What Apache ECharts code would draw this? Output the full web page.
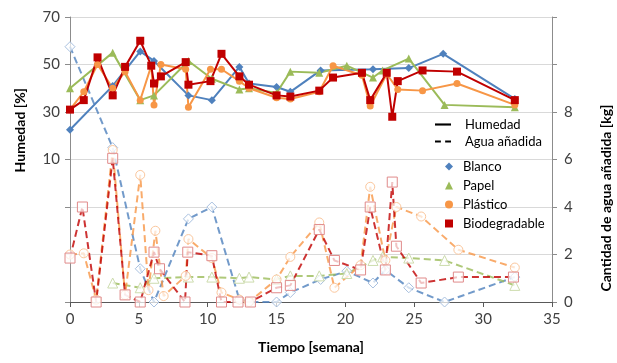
<!DOCTYPE html>
<html>
<head>
<meta charset="utf-8">
<script src="https://cdn.jsdelivr.net/npm/echarts@6/dist/echarts.min.js"></script>
<style>
  html, body { margin: 0; padding: 0; background: #fff; }
  #chart { width: 617px; height: 363px; }
</style>
</head>
<body>
<div id="chart"></div>
<script>
// semanas y valores
// Humedad [%] (lineas continuas, eje izquierdo)
let blancoHumWeeks = [0, 3.1, 5.1, 6.1, 8.6, 10.3, 12.3, 13, 15, 16, 18.2, 22, 24.6, 27.1, 32.3];
let blancoHum = [22.5, 41, 55.5, 51.5, 37, 35, 49, 42, 40.5, 38.5, 47.5, 48, 48.5, 54.5, 35.5];

let papelHumWeeks = [0, 3.1, 5.1, 6.1, 8.6, 10.3, 12.3, 13, 15, 16, 18.1, 20.1, 22, 22.7, 24.6, 27.2, 32.3];
let papelHum = [40, 55, 35, 37, 51.5, 44, 39.5, 40, 38, 47, 46.5, 49.5, 44.5, 47.5, 52.5, 33, 32];

let plasticoHumWeeks = [0, 1, 2, 3.1, 4, 5.1, 5.9, 6.1, 6.6, 8.4, 8.6, 10.2, 11, 12.3, 13, 15, 16, 18.1, 19.1, 21.2, 21.8, 23, 23.8, 25.6, 28.1, 32.3];
let plasticoHum = [31, 38.5, 50, 40, 47, 35, 49.5, 33, 50, 48, 32, 48, 48, 43, 40, 36, 35.5, 38.5, 49.5, 45.5, 32.5, 46, 39.5, 39, 42, 33];

let bioHumWeeks = [0, 1, 2, 3.1, 4, 5.1, 5.9, 6.1, 6.6, 8.4, 8.6, 10.2, 11, 12.3, 13, 15, 16, 18.1, 19.1, 21.2, 21.8, 23, 23.4, 23.8, 25.6, 28.1, 32.3];
let bioHum = [31, 35, 53, 37, 49, 60, 49.5, 42, 45, 51, 41.5, 43, 54.5, 45, 41.5, 37, 36.5, 39, 44.5, 46.5, 35, 46.5, 28, 43, 47.5, 47, 35];

// Agua añadida [kg] (lineas discontinuas, eje derecho)
let blancoAguaWeeks = [0, 3.1, 5.1, 6.1, 8.6, 10.3, 12.3, 13, 15, 16, 18.2, 20.1, 22, 22.9, 24.6, 27.2, 32.3];
let blancoAgua = [10.75, 6.5, 1.4, 0, 3.5, 4, 0.1, 0, 0, 0.4, 0.95, 1.3, 0.8, 1.35, 0.6, 0, 1.05];

let papelAguaWeeks = [3.1, 5.1, 6.1, 8.6, 10.3, 12.3, 13, 15, 16, 18.1, 20.1, 22, 22.7, 24.6, 27.2, 32.3];
let papelAgua = [0.8, 0.6, 1.0, 1.05, 1.05, 1.0, 1.05, 0.95, 1.1, 1.1, 1.2, 1.75, 1.9, 1.85, 1.75, 0.7];

let plasticoAguaWeeks = [0, 1, 1.9, 3.1, 4, 5.1, 5.7, 6.2, 6.8, 8.4, 8.6, 10.3, 11, 12.3, 13, 15, 16, 18.1, 19.2, 21.1, 21.8, 22.9, 23.7, 25.5, 28.2, 32.3];
let plasticoAgua = [2.0, 2.05, 0.1, 6.4, 0.3, 5.35, 0.5, 3.0, 0.25, 1.1, 2.65, 1.85, 0.4, 0.1, 0, 0.95, 1.9, 3.35, 0.6, 1.55, 4.85, 1.75, 4.0, 3.6, 2.2, 1.45];

let bioAguaWeeks = [0, 0.9, 1.9, 3.1, 4, 5.1, 6.1, 6.5, 8.35, 8.55, 10.3, 11, 12.2, 13.1, 15, 16, 18.1, 19.2, 21.1, 21.8, 22.9, 23.4, 23.7, 25.5, 28.2, 32.2];
let bioAgua = [1.85, 4, 0, 6.05, 0.3, 0, 2.1, 1.4, 0, 2.1, 1.95, 0, 0, 0, 0.6, 0.7, 3.05, 1.75, 1.35, 4, 1.35, 5.05, 2.35, 0.8, 1.05, 1.05];

let materiales = ['Blanco', 'Papel', 'Plástico', 'Biodegradable'];

// ejes
let xTicks = [0, 5, 10, 15, 20, 25, 30, 35];
let humLabels = [10, 30, 50, 70];
let aguaLabels = [0, 2, 4, 6, 8];

function pares(weeks, vals) {
      return weeks.map(function (w, i) {
            return [w, vals[i]];
      });
}

let font = 'Lato, "Open Sans", sans-serif';
let colores = ['#4F81BD', '#9BBB59', '#F79646', '#C00000'];
let bordesClaros = ['#a9c1e0', '#cddcae', '#fbc79d', '#e08a8a'];
let simbolos = ['diamond', 'triangle', 'circle', 'rect'];
let tamanos = [8, 8, 7, 8];

let humData = [
      pares(blancoHumWeeks, blancoHum),
      pares(papelHumWeeks, papelHum),
      pares(plasticoHumWeeks, plasticoHum),
      pares(bioHumWeeks, bioHum)
];
let aguaData = [
      pares(blancoAguaWeeks, blancoAgua),
      pares(papelAguaWeeks, papelAgua),
      pares(plasticoAguaWeeks, plasticoAgua),
      pares(bioAguaWeeks, bioAgua)
];

let series = [];

// series vacias solo para la leyenda de estilo de linea
series.push({ name: 'Humedad', type: 'line', data: [], itemStyle: { color: '#000' }, lineStyle: { color: '#000' } });
series.push({ name: 'Agua añadida', type: 'line', data: [], itemStyle: { color: '#000' }, lineStyle: { color: '#000' } });

// primero las discontinuas (quedan debajo)
for (let i = 0; i < 4; i++) {
      series.push({
            name: materiales[i] + ' agua',
            type: 'line',
            yAxisIndex: 1,
            data: aguaData[i],
            symbol: simbolos[i],
            symbolSize: tamanos[i] + 2,
            lineStyle: { color: colores[i], width: 2, type: [7, 4], opacity: 0.8 },
            itemStyle: { color: 'rgba(255,255,255,0.7)', borderColor: bordesClaros[i], borderWidth: 1 },
            z: 2
      });
}

for (let i = 0; i < 4; i++) {
      series.push({
            name: materiales[i],
            type: 'line',
            yAxisIndex: 0,
            data: humData[i],
            symbol: simbolos[i],
            symbolSize: tamanos[i],
            lineStyle: { color: colores[i], width: 2 },
            itemStyle: { color: colores[i] },
            z: 3
      });
}

let chart = echarts.init(document.getElementById('chart'));

let option = {
      animation: false,
      backgroundColor: '#fff',
      grid: { left: 70, right: 65, top: 17, bottom: 61 },
      legend: [{
            orient: 'vertical',
            left: 430,
            top: 113,
            itemWidth: 16,
            itemHeight: 10,
            itemGap: 4,
            selectedMode: false,
            textStyle: { fontFamily: font, fontSize: 13, color: '#000', padding: [0, 0, 0, 9] },
            data: [
                  { name: 'Humedad', icon: 'path://M0,0H30V4H0Z' },
                  { name: 'Agua añadida', icon: 'path://M0,0H11V4H0Z M19,0H30V4H19Z' }
            ]
      }, {
            orient: 'vertical',
            left: 440,
            top: 155,
            itemWidth: 8,
            itemHeight: 8,
            itemGap: 6,
            selectedMode: false,
            textStyle: { fontFamily: font, fontSize: 13, color: '#000', padding: [0, 0, 0, 5] },
            data: materiales.map(function (m, i) {
                  return { name: m, icon: simbolos[i] };
            })
      }],
      xAxis: {
            type: 'value',
            min: xTicks[0],
            max: xTicks[xTicks.length - 1],
            interval: 5,
            name: 'Tiempo [semana]',
            nameLocation: 'middle',
            nameGap: 38,
            nameTextStyle: { fontFamily: font, fontSize: 14, fontWeight: 'bold', color: '#000' },
            axisLine: { onZero: false, lineStyle: { color: '#595959', width: 1 } },
            axisTick: { show: true, length: 5, lineStyle: { color: '#595959' } },
            axisLabel: { fontFamily: font, fontSize: 15, color: '#404040', margin: 10 },
            splitLine: { show: false }
      },
      yAxis: [{
            type: 'value',
            min: -50,
            max: 70,
            interval: 20,
            axisLine: { show: true, lineStyle: { color: '#8c8c8c' } },
            axisTick: { show: true, length: 5, lineStyle: { color: '#8c8c8c' } },
            axisLabel: {
                  fontFamily: font, fontSize: 15, color: '#404040', margin: 10,
                  formatter: function (v) { return humLabels.indexOf(v) >= 0 ? v : ''; }
            },
            splitLine: { show: true, lineStyle: { color: '#d9d9d9', width: 1 } }
      }, {
            type: 'value',
            min: 0,
            max: 12,
            interval: 2,
            position: 'right',
            axisLine: { show: true, lineStyle: { color: '#8c8c8c' } },
            axisTick: { show: true, length: 5, lineStyle: { color: '#8c8c8c' } },
            axisLabel: {
                  fontFamily: font, fontSize: 15, color: '#404040', margin: 12,
                  formatter: function (v) { return aguaLabels.indexOf(v) >= 0 ? v : ''; }
            },
            splitLine: { show: false }
      }],
      graphic: [{
            type: 'text',
            left: 13,
            top: 88,
            rotation: Math.PI / 2,
            style: { text: 'Humedad [%]', fontFamily: font, fontSize: 14, fontWeight: 'bold', fill: '#000', align: 'center', verticalAlign: 'middle' }
      }, {
            type: 'text',
            x: 606,
            y: 198,
            rotation: Math.PI / 2,
            style: { text: 'Cantidad de agua añadida [kg]', fontFamily: font, fontSize: 14, fontWeight: 'bold', fill: '#000', align: 'center', verticalAlign: 'middle' }
      }],
      series: series
};

chart.setOption(option);
</script>
</body>
</html>
